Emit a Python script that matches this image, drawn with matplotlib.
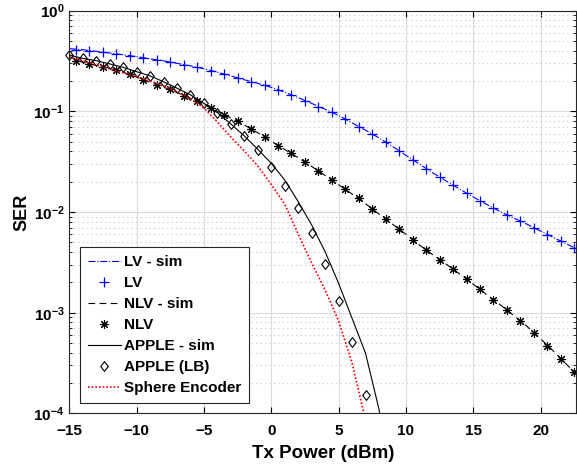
import numpy as np
import matplotlib
matplotlib.use("Agg")
import matplotlib.pyplot as plt
from matplotlib.ticker import LogLocator, FuncFormatter, NullFormatter

plt.rcParams["font.family"] = ["Liberation Sans", "DejaVu Sans"]
plt.rcParams["font.weight"] = "bold"
plt.rcParams["mathtext.fontset"] = "custom"
plt.rcParams["mathtext.rm"] = "Liberation Sans:bold"
plt.rcParams["mathtext.bf"] = "Liberation Sans:bold"

# simulated curves, one point per dB
x_sim = list(range(-15, 24))
lv_sim = [0.42, 0.41, 0.395, 0.38, 0.365, 0.35, 0.333, 0.318, 0.30, 0.283,
          0.265, 0.245, 0.225, 0.206, 0.19, 0.173, 0.155, 0.137, 0.12, 0.105,
          0.091, 0.077, 0.065, 0.0545, 0.0449, 0.0366, 0.0300, 0.0245, 0.0203, 0.0169,
          0.0141, 0.0119, 0.0101, 0.00874, 0.00756, 0.00647, 0.00556, 0.00477, 0.0041]
nlv_sim = [0.35, 0.307, 0.286, 0.267, 0.245, 0.219, 0.194, 0.174, 0.154, 0.135,
           0.118, 0.100, 0.0858, 0.0733, 0.0612, 0.0505, 0.0418, 0.0347, 0.0284, 0.0231,
           0.0187, 0.0151, 0.0121, 0.00955, 0.0076, 0.00601, 0.00471, 0.00376, 0.00303, 0.00242,
           0.00192, 0.00151, 0.0012, 0.00094, 0.00073, 0.00055, 0.00041, 0.0003, 0.00022]

# analytic points at half-dB offsets
x_half = [-14.5, -13.5, -12.5, -11.5, -10.5, -9.5, -8.5, -7.5, -6.5, -5.5,
          -4.5, -3.5, -2.5, -1.5, -0.5, 0.5, 1.5, 2.5, 3.5, 4.5,
          5.5, 6.5, 7.5, 8.5, 9.5, 10.5, 11.5, 12.5, 13.5, 14.5,
          15.5, 16.5, 17.5, 18.5, 19.5, 20.5, 21.5, 22.5]
lv = [0.41, 0.40, 0.385, 0.37, 0.355, 0.34, 0.325, 0.31, 0.29, 0.275,
      0.254, 0.235, 0.215, 0.197, 0.183, 0.164, 0.146, 0.128, 0.111, 0.0986,
      0.0835, 0.0705, 0.0597, 0.0497, 0.0404, 0.0331, 0.0270, 0.0223, 0.0185, 0.0154,
      0.0130, 0.0109, 0.00936, 0.00816, 0.0070, 0.00597, 0.00517, 0.0044]
nlv = [0.32, 0.295, 0.278, 0.256, 0.235, 0.205, 0.183, 0.166, 0.143, 0.128,
       0.109, 0.092, 0.080, 0.0672, 0.0557, 0.0458, 0.0382, 0.0316, 0.0256, 0.0208,
       0.0168, 0.0137, 0.0107, 0.00853, 0.00684, 0.00528, 0.00420, 0.00337, 0.00273, 0.00215,
       0.00171, 0.00134, 0.00107, 0.00083, 0.00063, 0.00047, 0.00035, 0.000256]

# APPLE curves
x_apple = list(range(-15, 10))
apple_sim = [0.363, 0.336, 0.319, 0.296, 0.274, 0.248, 0.225, 0.197, 0.170, 0.146,
             0.120, 0.097, 0.075, 0.057, 0.042, 0.0305, 0.0208, 0.0127, 0.00745, 0.00404,
             0.00196, 0.00088, 0.000396, 0.00011, 0.000015]
x_lb = list(range(-15, 8))
apple_lb = [0.363, 0.336, 0.319, 0.296, 0.274, 0.248, 0.225, 0.197, 0.170, 0.146,
            0.120, 0.097, 0.075, 0.057, 0.041, 0.0282, 0.0182, 0.0109, 0.00615, 0.00303,
            0.00132, 0.00051, 0.000153]

# Sphere encoder
x_sphere = list(range(-15, 8))
sphere = [0.347, 0.317, 0.289, 0.264, 0.241, 0.220, 0.200, 0.179, 0.157, 0.134,
          0.108, 0.0785, 0.0557, 0.0404, 0.0287, 0.0188, 0.0120, 0.00605, 0.00313, 0.00168,
          0.00083, 0.000317, 0.000086]

# MATLAB-like diamond (a bit taller than wide)
diamond = [(-0.39, 0), (0, 0.5), (0.39, 0), (0, -0.5), (-0.39, 0)]

fig = plt.figure(figsize=(5.77, 4.65), dpi=100)
ax = fig.add_axes([0.120, 0.111, 0.879, 0.866])

lw = 0.8
ax.plot(x_sim, lv_sim, color="blue", linestyle="-.", lw=lw, label="LV - sim")
ax.plot(x_half, lv, color="blue", linestyle="none", marker="+", ms=6.5, mew=0.9, label="LV")
ax.plot(x_sim, nlv_sim, color="black", linestyle=(0, (6, 4)), lw=lw, label="NLV - sim")
ax.plot(x_half, nlv, color="black", linestyle="none", marker=(8, 2, 0), ms=6.5, mew=0.8, label="NLV")
ax.plot(x_apple, apple_sim, color="black", linestyle="-", lw=lw, label="APPLE - sim")
ax.plot(x_lb, apple_lb, color="black", linestyle="none", marker=diamond, ms=7, mew=0.8,
        mfc="none", clip_on=False, label="APPLE (LB)")
ax.plot(x_sphere, sphere, color="red", linestyle=(0, (1, 1.2)), lw=1.2, label="Sphere Encoder")

ax.set_yscale("log")
ax.set_xlim(-15, 22.66)
ax.set_ylim(1e-4, 1)
ax.set_xticks([-15, -10, -5, 0, 5, 10, 15, 20])
ax.yaxis.set_major_locator(LogLocator(base=10, numticks=10))
ax.yaxis.set_minor_locator(LogLocator(base=10, subs=np.arange(2, 10), numticks=10))
ax.yaxis.set_minor_formatter(NullFormatter())
ax.yaxis.set_major_formatter(FuncFormatter(lambda v, p: r"$\mathbf{10^{%d}}$" % round(np.log10(v))))

ax.grid(True, which="major", color="#dcdcdc", lw=0.8, linestyle="-")
ax.grid(True, which="minor", axis="y", color="#c8c8c8", lw=0.8, linestyle=(0, (1, 3)))
ax.set_axisbelow(True)

ax.tick_params(which="both", direction="in", top=True, right=True, labelsize=11)
ax.tick_params(axis="x", pad=8)
ax.tick_params(which="major", length=4, width=0.8)
ax.tick_params(which="minor", length=2.5, width=0.6)
for s in ax.spines.values():
    s.set_linewidth(0.8)
    s.set_color("#262626")

ax.set_xlabel("Tx Power (dBm)", fontsize=13.5, fontweight="bold", labelpad=5)
ax.set_ylabel("SER", fontsize=13, fontweight="bold", labelpad=2)

leg = ax.legend(loc="lower left", bbox_to_anchor=(0.021, 0.026), borderaxespad=0,
                fontsize=11, frameon=True, fancybox=False, edgecolor="#262626",
                framealpha=1, handlelength=2.2, handletextpad=0.2, labelspacing=0.46,
                borderpad=0.5)
leg.get_frame().set_linewidth(0.8)

fig.savefig("out.png", dpi=100)
